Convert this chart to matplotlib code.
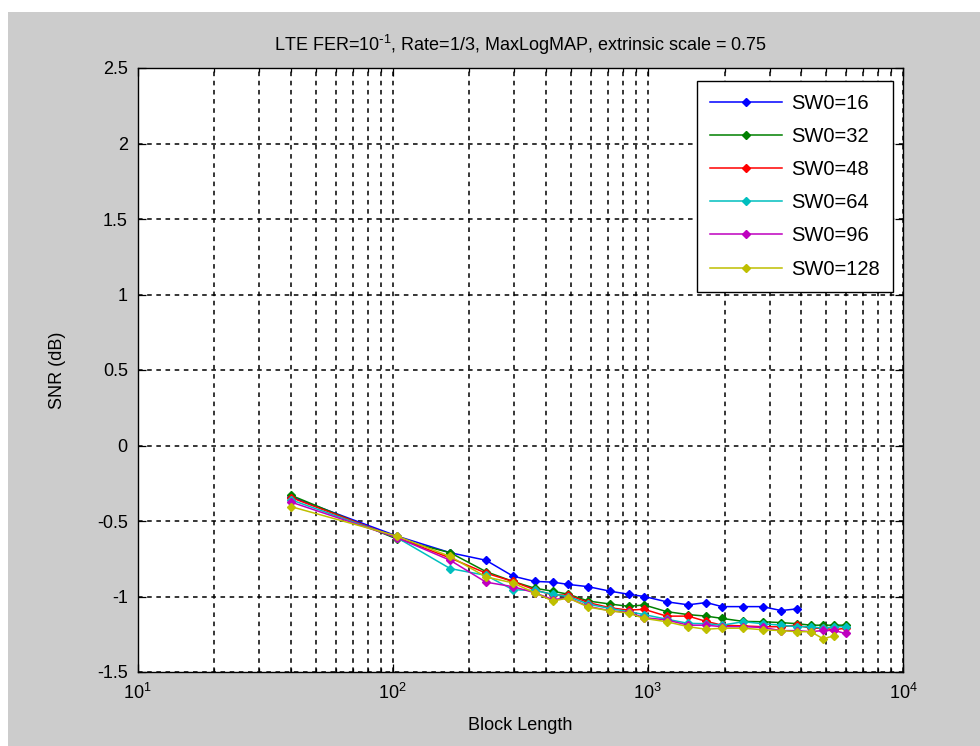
import matplotlib
matplotlib.use("Agg")
import matplotlib.pyplot as plt
from matplotlib.patches import Rectangle
from matplotlib.ticker import LogLocator, NullFormatter, FixedLocator

plt.rcParams['font.family'] = ['Liberation Sans', 'DejaVu Sans']
plt.rcParams['mathtext.default'] = 'regular'

x_full = [40, 104, 168, 232, 296, 360, 424, 488, 584, 712, 840, 968, 1184, 1440,
          1696, 1952, 2368, 2816, 3328, 3840, 4352, 4864, 5376, 5952]

sw16 = [-0.34, -0.60, -0.71, -0.76, -0.865, -0.90, -0.905, -0.92, -0.935, -0.965,
        -0.985, -1.0, -1.035, -1.055, -1.04, -1.067, -1.067, -1.067, -1.093, -1.082]
sw32 = [-0.33, -0.62, -0.71, -0.835, -0.90, -0.945, -0.965, -0.985, -1.03, -1.05,
        -1.065, -1.056, -1.10, -1.12, -1.13, -1.145, -1.165, -1.167, -1.173, -1.18,
        -1.19, -1.19, -1.19, -1.19]
sw48 = [-0.345, -0.61, -0.745, -0.845, -0.90, -0.955, -0.99, -0.99, -1.04, -1.075,
        -1.09, -1.085, -1.13, -1.13, -1.165, -1.19, -1.195, -1.20, -1.20, -1.19,
        -1.21, -1.21, -1.22, -1.21]
sw64 = [-0.36, -0.61, -0.815, -0.86, -0.955, -0.96, -0.985, -1.0, -1.05, -1.08,
        -1.10, -1.12, -1.15, -1.178, -1.18, -1.19, -1.167, -1.18, -1.19, -1.20,
        -1.20, -1.21, -1.20, -1.20]
sw96 = [-0.375, -0.61, -0.76, -0.905, -0.935, -0.975, -1.02, -1.01, -1.065, -1.095,
        -1.105, -1.14, -1.155, -1.19, -1.19, -1.20, -1.20, -1.205, -1.226, -1.226,
        -1.233, -1.225, -1.225, -1.245]
sw128 = [-0.405, -0.60, -0.735, -0.87, -0.91, -0.975, -1.03, -1.01, -1.07, -1.095,
         -1.11, -1.145, -1.167, -1.20, -1.217, -1.21, -1.21, -1.22, -1.226, -1.233,
         -1.233, -1.28, -1.26]

labels = ['SW0=16', 'SW0=32', 'SW0=48', 'SW0=64', 'SW0=96', 'SW0=128']
colors = ['#0000ff', '#008000', '#ff0000', '#00bfbf', '#bf00bf', '#bfbf00']
series = [sw16, sw32, sw48, sw64, sw96, sw128]

yticks = [-1.5, -1, -0.5, 0, 0.5, 1, 1.5, 2, 2.5]
ytick_labels = ['-1.5', '-1', '-0.5', '0', '0.5', '1', '1.5', '2', '2.5']

fig = plt.figure(figsize=(9.8, 7.46), dpi=100)
fig.patch.set_facecolor('#cccccc')
# white strips at top and left (window frame)
fig.patches.append(Rectangle((0, 1 - 12 / 746), 1, 12 / 746, transform=fig.transFigure,
                             facecolor='white', edgecolor='none', zorder=0))
fig.patches.append(Rectangle((0, 0), 8 / 980, 1, transform=fig.transFigure,
                             facecolor='white', edgecolor='none', zorder=0))

ax = fig.add_axes([137.5 / 980, 74 / 746, 765.5 / 980, 604 / 746])
ax.set_facecolor('white')

for ys, lab, c in zip(series, labels, colors):
    ax.plot(x_full[:len(ys)], ys, '-', marker='D', markersize=4, color=c,
            linewidth=1.1, label=lab, zorder=3)

ax.set_xscale('log')
ax.set_xlim(10, 10000)
ax.set_ylim(-1.5, 2.5)
ax.set_yticks(yticks)
ax.set_yticklabels(ytick_labels)
ax.xaxis.set_major_locator(FixedLocator([10, 100, 1000, 10000]))
ax.xaxis.set_minor_locator(LogLocator(base=10, subs=range(2, 10), numticks=20))
ax.xaxis.set_minor_formatter(NullFormatter())

dash = (0, (3, 3))
ax.grid(True, which='major', axis='both', color='black', linestyle=dash, linewidth=1.1)
ax.grid(True, which='minor', axis='x', color='black', linestyle=dash, linewidth=1.1)
ax.set_axisbelow(True)

ax.tick_params(axis='both', which='both', direction='in', top=True, right=True,
               labelsize=13, colors='black', width=0.9)
ax.tick_params(axis='both', which='major', length=6)
ax.tick_params(axis='x', which='minor', length=3)
ax.tick_params(axis='x', which='major', pad=8)
ax.tick_params(axis='y', which='major', pad=7)
for s in ax.spines.values():
    s.set_linewidth(1.0)
    s.set_color('black')

ax.set_xlabel('Block Length', fontsize=13, labelpad=10)
ax.set_ylabel('SNR (dB)', fontsize=13, labelpad=22)
ax.set_title('LTE FER=10$^{\\text{-}1}$, Rate=1/3, MaxLogMAP, extrinsic scale = 0.75',
             fontsize=13, pad=12)

leg = ax.legend(loc='upper right', bbox_to_anchor=(0.987, 0.9785), fontsize=14.5,
                frameon=True, fancybox=False, edgecolor='black', borderpad=0.65,
                labelspacing=0.7, handlelength=3.6, handletextpad=0.45,
                borderaxespad=0.0)
leg.get_frame().set_linewidth(1.0)
leg.get_frame().set_alpha(1)

fig.savefig('out.png', dpi=100, facecolor=fig.get_facecolor())
